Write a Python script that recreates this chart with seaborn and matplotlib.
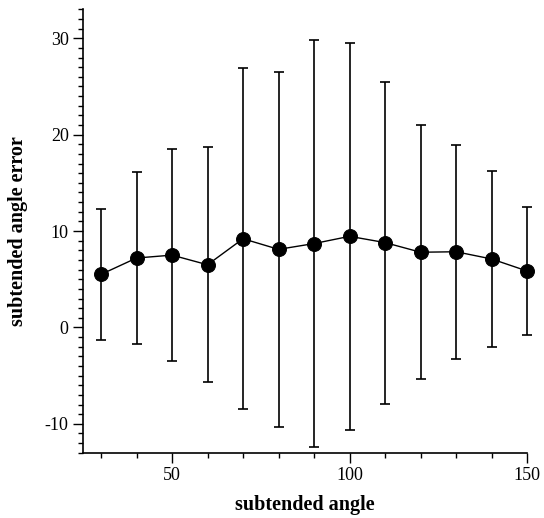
import matplotlib
matplotlib.use("Agg")
import matplotlib.pyplot as plt
from matplotlib.ticker import MultipleLocator
import numpy as np
import pandas as pd
import seaborn as sns

# values
angles = [30, 40, 50, 60, 70, 80, 90, 100, 110, 120, 130, 140, 150]
mean_error = [5.5, 7.2, 7.5, 6.5, 9.2, 8.1, 8.7, 9.45, 8.8, 7.8, 7.85, 7.1, 5.85]
sd_error = [6.8, 8.9, 11.0, 12.2, 17.7, 18.4, 21.1, 20.1, 16.7, 13.2, 11.1, 9.1, 6.6]

sns.set_style("ticks", {'text.color': 'black', 'axes.labelcolor': 'black',
                        'xtick.color': 'black', 'ytick.color': 'black',
                        'axes.edgecolor': 'black'})
plt.rcParams['font.family'] = ['Liberation Serif', 'DejaVu Serif']

df = pd.DataFrame({'angle': angles, 'err': mean_error, 'sd': sd_error})

fig = plt.figure(figsize=(5.44, 5.18), dpi=100)
ax = fig.add_axes([0.153, 0.126, 0.816, 0.856])

bars = ax.errorbar(df['angle'], df['err'], yerr=df['sd'], fmt='none',
                   ecolor='black', elinewidth=1.2, capsize=3.4, capthick=1.2, zorder=2)
for art in bars.lines[1] + bars.lines[2]:
    art.set_clip_on(False)

sns.lineplot(data=df, x='angle', y='err', color='black', linewidth=1.0,
             marker='o', markersize=10, markeredgecolor='black', ax=ax,
             zorder=3, clip_on=False)

ax.set_xlim(25, 150)
ax.set_ylim(-13, 33)
ax.xaxis.set_major_locator(MultipleLocator(50))
ax.xaxis.set_minor_locator(MultipleLocator(10))
ax.yaxis.set_major_locator(MultipleLocator(10))
ax.yaxis.set_minor_locator(MultipleLocator(1))
ax.tick_params(which='major', direction='out', length=7.5, width=1, labelsize=13,
               pad=3, color='black', labelcolor='black')
ax.tick_params(which='minor', direction='out', length=3.5, width=1, color='black')
ax.yaxis.set_major_formatter(matplotlib.ticker.FuncFormatter(lambda v, p: '%d' % v))

ax.set_xlabel('subtended angle', fontsize=14.5, fontweight='bold', labelpad=8, color='black')
ax.set_ylabel('subtended angle error', fontsize=14.5, fontweight='bold', labelpad=12, color='black')

for s in ['left', 'bottom']:
    ax.spines[s].set_linewidth(1.2)
    ax.spines[s].set_color('black')
sns.despine(ax=ax)

fig.savefig('out.png', dpi=100)
